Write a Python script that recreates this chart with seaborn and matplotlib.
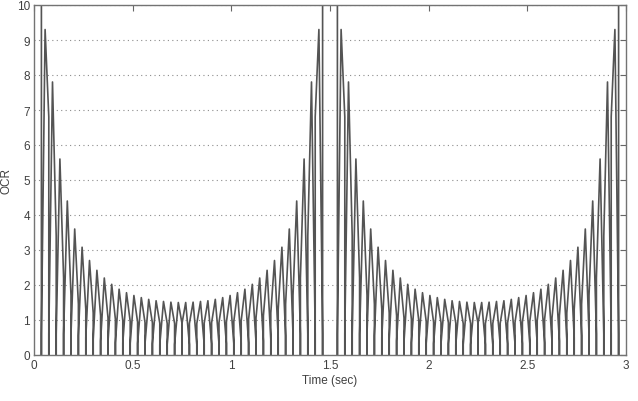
import numpy as np
import pandas as pd
import matplotlib
matplotlib.use('Agg')
import matplotlib.pyplot as plt
import seaborn as sns

# values, edge -> centre of one 1.5 s half (20 cycles)
peak_half = [40, 9.3, 7.8, 5.6, 4.4, 3.6, 3.08, 2.7, 2.42, 2.2,
             2.02, 1.88, 1.78, 1.7, 1.64, 1.59, 1.55, 1.53, 1.51, 1.5]
trough_half = [10.5, 6.8, 3.4, 2.2, 1.7, 1.45, 1.3, 1.2, 1.12, 1.06,
               1.02, 0.98, 0.96, 0.94, 0.93, 0.92, 0.91, 0.9, 0.9, 0.9]
low_half = [np.nan, 0.6, 0.6, 0.6, 0.6, 0.6, 0.55, 0.5, 0.45, 0.4,
            0.38, 0.35, 0.35, 0.33, 0.33, 0.32, 0.32, 0.3, 0.3, 0.3]
half_starts = [0.0, 1.5]
period = 0.0375

xticks = [0, 0.5, 1, 1.5, 2, 2.5, 3]
yticks = list(range(0, 11))

# full 40 cycle half (second side is the mirror of the first)
peaks = peak_half + peak_half[::-1]
lows = low_half + trough_half[::-1]
troughs = trough_half + low_half[::-1]

rows = []
for h, t0 in enumerate(half_starts):
	for j in range(len(peaks)):
		x0 = t0 + j*period
		if not np.isnan(lows[j]):
			rows.append((h, x0, 0.0))
			rows.append((h, x0, lows[j]))
		rows.append((h, x0 + period/2, peaks[j]))
		if not np.isnan(troughs[j]):
			rows.append((h, x0 + period, troughs[j]))
			rows.append((h, x0 + period, 0.0))
df = pd.DataFrame(rows, columns=['half', 'Time', 'OCR'])

sns.set_style('white')
plt.rcParams['font.family'] = ['Liberation Sans', 'DejaVu Sans']

fig = plt.figure(figsize=(6.38, 4.02), dpi=100)
ax = fig.add_axes([34/638, 46/402, 592/638, 350/402])
sns.lineplot(data=df, x='Time', y='OCR', units='half', estimator=None, sort=False,
			 color='0.33', lw=1.2, ax=ax, legend=False)

ax.set_xlim(0, 3)
ax.set_ylim(0, 10)
ax.set_xticks(xticks)
ax.set_xticklabels([str(t) for t in xticks])
ax.set_yticks(yticks)
ax.yaxis.grid(True, ls=(0, (1, 3)), color='0.55', lw=0.8)
ax.xaxis.grid(False)
ax.set_axisbelow(True)
for s in ax.spines.values():
	s.set_color('0.45')
	s.set_linewidth(1.0)
ax.tick_params(direction='in', length=4, width=0.8, color='0.4', top=True, right=True,
			   labelsize=8.5, labelcolor='0.25', pad=3)
ax.set_xlabel('Time (sec)', fontsize=8.5, color='0.25', labelpad=2)
ax.set_ylabel('OCR', fontsize=8.5, color='0.25')
ax.yaxis.set_label_coords(-22/592, 0.5)

plt.savefig('out.png', dpi=100)
